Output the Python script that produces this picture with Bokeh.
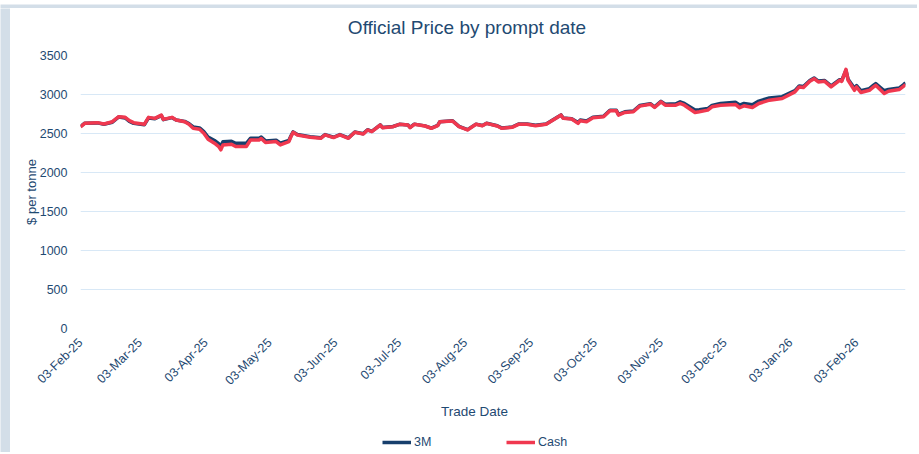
import math
from datetime import datetime
from bokeh.plotting import figure
from bokeh.layouts import column, row
from bokeh.models import (ColumnDataSource, Range1d, FixedTicker, DatetimeTickFormatter,
                          Legend, LegendItem, Label)
from bokeh.embed import file_html
from bokeh.resources import INLINE

dates = [
    "2025-02-03", "2025-02-05", "2025-02-11", "2025-02-14", "2025-02-18", "2025-02-21", "2025-02-24",
    "2025-02-26", "2025-02-28", "2025-03-05", "2025-03-07", "2025-03-10", "2025-03-13", "2025-03-14",
    "2025-03-18", "2025-03-20", "2025-03-24", "2025-03-26", "2025-03-28", "2025-03-31", "2025-04-02",
    "2025-04-04", "2025-04-07", "2025-04-09", "2025-04-10", "2025-04-11", "2025-04-15", "2025-04-17",
    "2025-04-22", "2025-04-24", "2025-04-28", "2025-04-29", "2025-05-01", "2025-05-06", "2025-05-08",
    "2025-05-12", "2025-05-13", "2025-05-14", "2025-05-16", "2025-05-22", "2025-05-27", "2025-05-29",
    "2025-06-02", "2025-06-05", "2025-06-09", "2025-06-12", "2025-06-16", "2025-06-18", "2025-06-20",
    "2025-06-24", "2025-06-25", "2025-06-30", "2025-07-03", "2025-07-07", "2025-07-08", "2025-07-10",
    "2025-07-15", "2025-07-18", "2025-07-21", "2025-07-22", "2025-07-28", "2025-07-31", "2025-08-04",
    "2025-08-08", "2025-08-11", "2025-08-13", "2025-08-18", "2025-08-20", "2025-08-25", "2025-08-28",
    "2025-09-01", "2025-09-05", "2025-09-10", "2025-09-15", "2025-09-17", "2025-09-18", "2025-09-22",
    "2025-09-25", "2025-09-26", "2025-09-29", "2025-10-02", "2025-10-07", "2025-10-10", "2025-10-13",
    "2025-10-14", "2025-10-17", "2025-10-21", "2025-10-24", "2025-10-29", "2025-10-31", "2025-11-03",
    "2025-11-05", "2025-11-10", "2025-11-12", "2025-11-14", "2025-11-19", "2025-11-21", "2025-11-25",
    "2025-11-27", "2025-12-01", "2025-12-08", "2025-12-10", "2025-12-12", "2025-12-16", "2025-12-19",
    "2025-12-24", "2025-12-30", "2026-01-02", "2026-01-05", "2026-01-07", "2026-01-09", "2026-01-12",
    "2026-01-14", "2026-01-16", "2026-01-19", "2026-01-22", "2026-01-26", "2026-01-27", "2026-01-29",
    "2026-01-30", "2026-02-02", "2026-02-03", "2026-02-05", "2026-02-09", "2026-02-11", "2026-02-12",
    "2026-02-16", "2026-02-18", "2026-02-23", "2026-02-25", "2026-02-26",
]

cash = [
    2585, 2630, 2639, 2622, 2651, 2715, 2707,
    2664, 2639, 2618, 2707, 2694, 2736, 2681,
    2707, 2673, 2651, 2618, 2567, 2554, 2503,
    2427, 2376, 2333, 2291, 2354, 2363, 2333,
    2333, 2418, 2418, 2435, 2384, 2397, 2354,
    2397, 2461, 2515, 2482, 2452, 2439, 2482,
    2448, 2482, 2439, 2515, 2494, 2545, 2524,
    2609, 2575, 2588, 2618, 2609, 2575, 2618,
    2596, 2567, 2600, 2651, 2660, 2588, 2545,
    2618, 2600, 2630, 2596, 2567, 2579, 2618,
    2618, 2600, 2618, 2702, 2736, 2694, 2685,
    2630, 2664, 2651, 2702, 2715, 2791, 2791,
    2736, 2770, 2779, 2851, 2876, 2834, 2906,
    2863, 2863, 2885, 2863, 2770, 2779, 2800,
    2842, 2863, 2872, 2830, 2855, 2834, 2885,
    2927, 2948, 2991, 3033, 3097, 3089, 3169,
    3203, 3161, 3169, 3097, 3182, 3169, 3322,
    3182, 3054, 3097, 3025, 3054, 3097, 3118,
    3012, 3042, 3063, 3105, 3127,
]

three_m = [
    2590, 2632, 2636, 2618, 2645, 2712, 2700,
    2655, 2630, 2612, 2700, 2690, 2730, 2678,
    2703, 2672, 2655, 2628, 2585, 2572, 2525,
    2455, 2410, 2370, 2335, 2395, 2400, 2375,
    2375, 2440, 2440, 2455, 2405, 2415, 2375,
    2410, 2470, 2520, 2487, 2458, 2445, 2486,
    2452, 2486, 2444, 2518, 2498, 2548, 2528,
    2610, 2578, 2590, 2618, 2610, 2577, 2620,
    2598, 2570, 2603, 2652, 2662, 2592, 2550,
    2620, 2603, 2632, 2600, 2572, 2583, 2622,
    2622, 2605, 2622, 2706, 2738, 2698, 2690,
    2640, 2672, 2660, 2710, 2722, 2798, 2798,
    2745, 2778, 2788, 2858, 2882, 2842, 2912,
    2875, 2880, 2906, 2885, 2800, 2805, 2820,
    2860, 2885, 2900, 2865, 2885, 2868, 2915,
    2955, 2972, 3012, 3050, 3110, 3102, 3180,
    3212, 3172, 3178, 3110, 3190, 3180, 3310,
    3195, 3080, 3115, 3050, 3075, 3120, 3140,
    3048, 3065, 3082, 3125, 3150,
]

tick_dates = [
    "2025-02-03", "2025-03-03", "2025-04-03", "2025-05-03", "2025-06-03", "2025-07-03",
    "2025-08-03", "2025-09-03", "2025-10-03", "2025-11-03", "2025-12-03", "2026-01-03",
    "2026-02-03",
]
y_ticks = [0, 500, 1000, 1500, 2000, 2500, 3000, 3500]
series_names = ["3M", "Cash"]

TEXT = "#1f4a72"
FONT = "Liberation Sans"
NAVY = "#173f6c"
RED = "#f0384f"
FRAME_BG = "#d3dee8"

# page-pixel layout (chart frame spans x 80..905, y 55..330)
FX0, FX1 = 80, 905

epoch = datetime(1970, 1, 1)
def to_ms(s):
    return (datetime.strptime(s, "%Y-%m-%d") - epoch).total_seconds() * 1000.0

def blank(w, h, x_range, y_range, bg="white"):
    s = figure(width=w, height=h, output_backend="svg", toolbar_location=None,
               x_range=x_range, y_range=y_range,
               x_axis_location=None, y_axis_location=None,
               min_border_left=0, min_border_right=0, min_border_top=0, min_border_bottom=0)
    s.outline_line_color = None
    s.grid.grid_line_color = None
    s.background_fill_color = bg
    s.border_fill_color = bg
    return s

xs = [datetime.strptime(d, "%Y-%m-%d") for d in dates]
src = ColumnDataSource(dict(x=xs, cash=cash, m3=three_m))

# ---------------- header: title ----------------
h = blank(907, 36, Range1d(FX0, FX1), Range1d(0, 36))
h.add_layout(Label(x=466.5, y=17, text="Official Price by prompt date", text_font=FONT,
                   text_font_size="19px", text_color=TEXT,
                   text_align="center", text_baseline="middle"))

# ---------------- main chart ----------------
p = figure(width=907, height=351, x_axis_type="datetime", output_backend="svg",
           toolbar_location=None,
           x_range=Range1d(xs[0], xs[-1]), y_range=Range1d(0, 3500),
           min_border_left=70, min_border_right=12, min_border_top=11, min_border_bottom=65)
p.title = None

p.outline_line_color = None
p.background_fill_color = "white"
p.border_fill_color = "white"

p.xgrid.grid_line_color = None
p.ygrid.grid_line_color = "#d8e8f6"
p.ygrid.grid_line_width = 1.2

p.yaxis.ticker = FixedTicker(ticks=y_ticks)
p.yaxis.axis_line_color = None
p.yaxis.major_tick_line_color = None
p.yaxis.minor_tick_line_color = None
p.yaxis.major_label_standoff = 7
p.yaxis.major_label_text_font = FONT
p.yaxis.major_label_text_font_size = "12.5px"
p.yaxis.major_label_text_color = TEXT
p.yaxis.axis_label = "$ per tonne"
p.yaxis.axis_label_text_font = FONT
p.yaxis.axis_label_text_font_size = "13px"
p.yaxis.axis_label_text_font_style = "normal"
p.yaxis.axis_label_text_color = TEXT
p.yaxis.axis_label_standoff = -2

p.xaxis.ticker = FixedTicker(ticks=[to_ms(t) for t in tick_dates])
fmt = "%d-%b-%y"
p.xaxis.formatter = DatetimeTickFormatter(
    microseconds=fmt, milliseconds=fmt, seconds=fmt, minsec=fmt, minutes=fmt,
    hourmin=fmt, hours=fmt, days=fmt, months=fmt, years=fmt)
p.xaxis.axis_line_color = None
p.xaxis.major_tick_line_color = None
p.xaxis.minor_tick_line_color = None
p.xaxis.major_label_orientation = math.pi / 4
p.xaxis.major_label_standoff = 6
p.xaxis.major_label_text_font = FONT
p.xaxis.major_label_text_font_size = "12.5px"
p.xaxis.major_label_text_color = TEXT

p.line("x", "m3", source=src, line_color=NAVY, line_width=3.5, line_join="round")
p.line("x", "cash", source=src, line_color=RED, line_width=3.5, line_join="round")

# ---------------- footer: axis title + legend ----------------
f = blank(907, 57, Range1d(FX0, FX1), Range1d(0, 57))
f.add_layout(Label(x=474, y=41, text="Trade Date", text_font=FONT, text_font_size="13.5px",
                   text_color=TEXT, text_align="center", text_baseline="middle"))

lsrc = ColumnDataSource(dict(x=[float("nan")], y=[float("nan")]))
l1 = f.line("x", "y", source=lsrc, line_color=NAVY, line_width=3.5)
l2 = f.line("x", "y", source=lsrc, line_color=RED, line_width=3.5)
legend = Legend(items=[LegendItem(label=series_names[0], renderers=[l1]),
                       LegendItem(label=series_names[1], renderers=[l2])],
                orientation="horizontal", location=(302, 0),
                border_line_color=None, background_fill_alpha=0,
                glyph_width=29, label_standoff=3, spacing=72,
                label_text_font=FONT, label_text_font_size="12.5px",
                label_text_color=TEXT, padding=2, margin=0)
f.add_layout(legend, "center")

# ---------------- page frame strips ----------------
top = blank(917, 8, Range1d(0, 1), Range1d(0, 1), bg=FRAME_BG)
left = blank(10, 444, Range1d(0, 1), Range1d(0, 1), bg=FRAME_BG)

layout = column(top, row(left, column(h, p, f, spacing=0), spacing=0), spacing=0)

html = file_html(layout, INLINE)
open("out.html", "w").write(html)
